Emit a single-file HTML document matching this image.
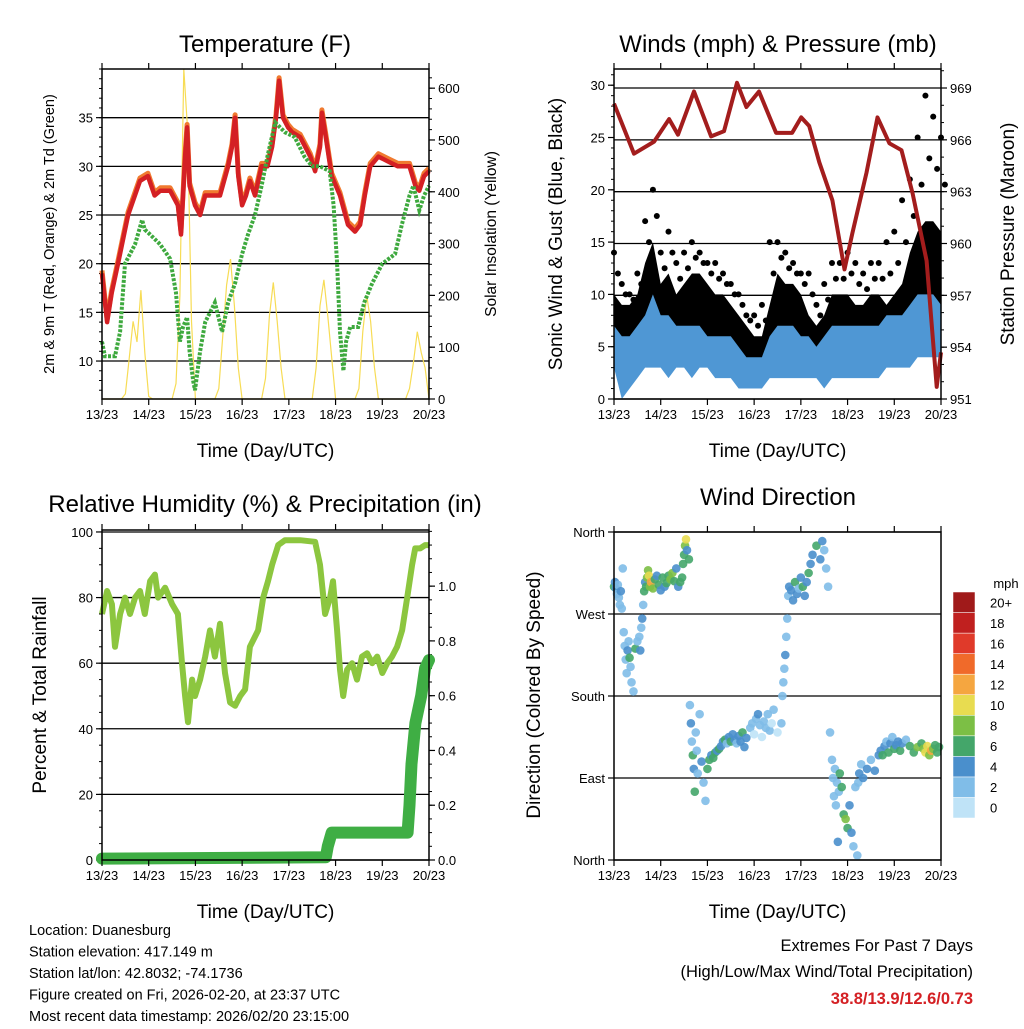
<!DOCTYPE html>
<html><head><meta charset="utf-8"><style>
html,body{margin:0;padding:0;background:#fff;}
svg text{font-family:"Liberation Sans",sans-serif;}
</style></head><body>
<svg id="c" width="1024" height="1024" xmlns="http://www.w3.org/2000/svg"></svg>
<script>
// ---- Temperature panel data ----
const tempHours=[0,2.6,5,8.2,13.4,19.5,23.6,27,30,35,39,40.6,42.7,43.7,45,47.8,50.4,53,55.5,60.6,64.8,66.8,68.4,70,72,74,76,78.6,82,85,87.4,89.4,91,93,95.6,97.7,101.8,107,109.5,112,113,115,118,122.3,126.4,130,132.6,135,137.8,142,147,152,158,161,163,165.5,168];
const tempVals=[19,14,17,20,25,28.5,29,27,27.5,27.5,26,23,31,34,28,26,25,27,27,27,30,32,35,29,26,27,28.5,27,30,30,32,35,38.8,35,34,33.5,33,31,29.5,32,35.5,33,29,27,24,23.3,24,27,30,31,30.5,30,30,28,27.5,29,29.5];
const dewHours=[0,1.5,6.7,9.3,11.8,17,20.6,22,24.7,29.8,35,38,40,41.6,43.7,45,46.8,47.8,50.4,53,58,61.7,64.8,68.4,72,75,78.6,82,85,89,94,99,104,108,112,117,119,120.8,122.3,124,125.4,127.5,131.6,134.7,138.8,144,150.6,154,158,160,163,165.5,168];
const dewVals=[12,10.5,10.5,13,20,22,24.5,23.5,23,22,20.5,17,12,13.5,14.5,11,8,7,11,14,16,13,16,18,21,23,25,28,31,34.5,33.5,33,31,30,30,29.5,26,20,13,9,12,13.5,13.5,16,18,20,21,24,27,28,25.5,27,28];
const solarVals=[0,0,0,0,0,0,10,80,150,110,210,90,5,0,0,0,0,0,0,30,200,640,520,150,0,0,0,0,0,0,20,120,220,270,180,60,0,0,0,0,0,0,40,160,225,150,60,0,0,0,0,0,0,0,0,60,180,230,160,80,0,0,0,0,0,0,20,130,200,150,60,0,0,0,0,0,0,0,0,20,70,130,90,60,0];
// ---- Winds panel data (4-hour bins) ----
const windLo=[3,0,1,2,3,3,3,2,3,3,2,3,3,2,2,2,1,1,1,1,2,2,2,2,2,2,2,1,2,2,2,2,2,2,2,3,3,3,3,4,4,4,4];
const windHi=[7,6,6,7,8,10,8,8,7,7,7,7,6,6,6,6,5,4,4,4,6,7,7,7,6,6,5,6,7,7,7,7,7,7,7,8,8,8,9,10,10,10,9];
const gustTyp=[10,9,9,10,13,15,11,12,10,11,12,12,11,10,10,9,8,7,6,6,9,12,11,11,10,8,7,8,10,10,10,9,9,10,10,9,10,11,14,16,17,17,16];
const gustMax=[14,11,10,12,17,20,14,16,13,14,15,14,13,13,12,11,10,8,8,9,15,15,14,13,12,12,9,11,13,13,14,13,12,13,13,15,16,19,21,25,29,27,25];
const presHours=[0,10.3,20.6,28.3,32.9,41.1,49.9,56.5,63.2,68,74.5,83.3,91.5,96.2,100.3,105.5,112.2,118.4,122.5,129.7,135.4,141.5,147.7,153.4,160.6,165.8,168];
const presVals=[968.1,965.2,965.9,967.2,966.3,968.8,966.2,966.5,969.3,967.9,968.8,966.4,966.4,967.3,966.8,964.7,962.5,958.5,960.6,964.1,967.3,965.8,965.4,962.9,959.0,951.7,953.7];
// ---- RH / precip ----
const rhHours=[0,2.6,5.1,6.7,9.3,11.8,14.4,17,19.5,22,24.7,27.2,28.8,32.4,36,39,41.1,42.7,44.2,46.3,47.8,50.4,53,55.5,58,60.6,63.2,65.8,68.4,71,73.5,76,80.2,82.8,85.3,87.4,90.5,94,101.8,109.5,112,114.6,117.2,118.7,120.8,122.3,123.9,125.9,128.5,131,133.6,136.2,138.8,141.4,144,146.5,149,151.6,154.2,156.8,159.3,160.9,163.5,166,168];
const rhVals=[75,82,78,65,75,80,75,80,82,75,85,87,80,83,78,75,60,50,42,55,50,55,62,70,62,72,57,48,47,50,52,65,70,80,85,90,96,97.5,97.5,97,90,75,80,85,70,58,50,58,60,55,62,63,60,62,57,60,62,65,70,80,90,95,95,96,96];
const precipHours=[0,115,116,118,157,158,159,161,164,166,168];
const precipVals=[0.005,0.01,0.05,0.1,0.1,0.2,0.35,0.5,0.6,0.7,0.73];
// ---- Wind direction scatter ----
const dirHours=[0,0.5,1,1.5,2,2.5,3,3.5,4,4.5, 5,5.5,6,6.5,7,7.5,8,8.5,9,10,11,12,13,13.5,14,14.5,15,
15.5,16,16.5,17,17.5,18,18.5,19,20,21,22,23,24,25,26,27,28,29,30,31,32,33,34,35,
35.5,36,36.5,37,37.5,38.5, 39,39.5,40,40.5,41,41.5,42,42.5,43,44,45,46,47,
48,49,50,51,52,53,54,55,56,57,58,59,60,61,62,63,64,65,66,67,68,70,
71,72,73,74,75,76,77,78,79,80,81,82,84,86,
86.5,87,87.5,88,88.5,89,89.5,
90,91,92,93,94,95,96,97,98,99,100,101,102,104,106,107,108,109,110,111,
112,112.5,113,113.5,114,114.5,115,115.5,116,117,118,119,120,121,122,123,124,125,125.5,
126,127,128,130,132,134,136,137,
138,139,140,141,142,143,144,145,146,147,148,150,152,154,156,158,159,160,161,162,163,164,165,166,167,168];
const dirVals=[300,305,298,292,302,288,280,295,276,320, 250,235,220,205,230,240,222,212,195,185,232,240,245,230,255,265,280,
295,305,300,310,318,312,300,305,298,308,312,302,296,310,300,304,312,308,315,306,320,300,305,310,
325,335,345,352,340,330, 170,150,130,115,100,75,140,120,95,160,108,85,65,
100,110,115,112,118,120,122,125,130,132,128,135,130,138,132,128,136,130,140,124,134,
145,150,138,155,160,148,135,152,145,160,142,150,165,140,
150,180,195,210,225,245,265,
290,300,296,285,305,292,298,310,300,290,305,315,325,335,345,330,350,340,320,300,
140,110,90,70,100,60,85,20,75,95,80,50,45,35,60,30,15,80,5,
85,95,105,90,100,110,98,115,
120,115,125,130,118,128,135,122,126,130,120,128,132,125,118,124,128,122,118,125,115,120,122,126,118,124];
const dirSpd=[6,4,4,3,3,3,3,4,3,2, 3,2,3,2,4,3,6,3,3,3,6,3,3,4,3,4,3,
6,4,7,8,9,10,8,12,8,6,5,6,4,6,5,7,6,8,9,6,5,4,6,6,
6,6,8,10,5,6, 3,4,3,6,4,6,3,3,3,3,4,3,2,
6,6,4,6,6,4,6,4,4,6,3,4,6,4,4,3,4,4,6,4,4,
2,2,1,2,4,2,1,2,2,3,2,1,2,1,
2,3,3,3,4,3,3,
3,4,4,4,6,4,3,5,6,4,4,6,4,5,6,4,4,3,2,2,
3,2,3,2,2,3,3,4,2,6,6,6,8,6,4,4,3,3,3,
3,4,3,4,4,3,4,4,
4,6,4,3,6,4,3,6,4,5,6,4,3,6,7,8,6,9,10,11,8,12,9,6,7,6];

const NS='http://www.w3.org/2000/svg';
const svg=document.getElementById('c');
function el(tag,attrs,parent,text){const e=document.createElementNS(NS,tag);for(const k in attrs)e.setAttribute(k,attrs[k]);if(text!==undefined)e.textContent=text;(parent||svg).appendChild(e);return e;}
function txt(x,y,s,size,anchor,parent,rot){const a={x:x,y:y,'font-size':size,'text-anchor':anchor||'middle',fill:'#000'};if(rot)a.transform='rotate(-90 '+x+' '+y+')';return el('text',a,parent,s);}

const dayLabels=['13/23','14/23','15/23','16/23','17/23','18/23','19/23','20/23'];
function panel(name){
  const g=el('g',{},svg);
  
  
  return g;
}
function frame(g,x0,y0,x1,y1){
  el('rect',{x:x0,y:y0,width:x1-x0,height:y1-y0,fill:'none',stroke:'#000','stroke-width':1.5},g);
  const xa=el('g',{},g);
  
  
  for(let d=0;d<=7;d++){
    const x=x0+(x1-x0)*d/7;
    el('line',{x1:x,y1:y1,x2:x,y2:y1+6,stroke:'#000','stroke-width':1.2},xa);
    el('line',{x1:x,y1:y0,x2:x,y2:y0-6,stroke:'#000','stroke-width':1.2},xa);
    const t=txt(x,y1+20,dayLabels[d],13,'middle',xa);
    
    
  }
  const xt=txt((x0+x1)/2,y1+58,'Time (Day/UTC)',19,'middle',g);
  
  
}
function yTicks(g,x,y0,y1,vmin,vmax,ticks,labels,side,grid,xOther,minorStep){
  const sc=v=>y1-(v-vmin)/(vmax-vmin)*(y1-y0);
  ticks.forEach((v,i)=>{
    const y=sc(v);
    if(grid) el('line',{x1:Math.min(x,xOther),y1:y,x2:Math.max(x,xOther),y2:y,stroke:'#000','stroke-width':1.3},g);
    el('line',{x1:x,y1:y,x2:x+(side=='l'?-6:6),y2:y,stroke:'#000','stroke-width':1.2},g);
    const t=txt(x+(side=='l'?-9:9),y+5,labels[i],13,side=='l'?'end':'start',g);
    
    
  });
  if(minorStep){for(let v=Math.ceil(vmin/minorStep)*minorStep;v<=vmax+1e-9;v+=minorStep){const y=sc(v);el('line',{x1:x,y1:y,x2:x+(side=='l'?-3:3),y2:y,stroke:'#000','stroke-width':1},g);}}
  return sc;
}
function path(pts){return pts.map((p,i)=>(i?'L':'M')+p[0].toFixed(1)+' '+p[1].toFixed(1)).join(' ');}

// ===== Panel 1: Temperature =====
(function(){
  const X0=102,X1=429,Y0=69,Y1=399;
  const g=panel('temperature-panel');
  const xs=h=>X0+h/168*(X1-X0);
  const yT=v=>Y1-(v-6.1)/(40-6.1)*(Y1-Y0);
  const yS=v=>Math.max(Y0,Y1-v/637*(Y1-Y0));
  const ti=txt(265,52,'Temperature (F)',24,'middle',g);
  yTicks(g,X0,Y0,Y1,6.1,40,[10,15,20,25,30,35],['10','15','20','25','30','35'],'l',true,X1,1);
  yTicks(g,X1,Y0,Y1,0,637,[0,100,200,300,400,500,600],['0','100','200','300','400','500','600'],'r',false,X0,20);
  const sp=el('path',{d:path(solarVals.map((v,i)=>[xs(i*2),yS(v)])),fill:'none',stroke:'#f7dc55','stroke-width':1.2},g);
  
  const o=el('path',{d:path(tempHours.map((h,i)=>[xs(h),yT(tempVals[i]+0.3)])),fill:'none',stroke:'#f07a30','stroke-width':5,'stroke-linejoin':'round'},g);
  
  const r=el('path',{d:path(tempHours.map((h,i)=>[xs(h),yT(tempVals[i])])),fill:'none',stroke:'#d42024','stroke-width':4.5,'stroke-linejoin':'round'},g);
  
  const d=el('path',{d:path(dewHours.map((h,i)=>[xs(h),yT(dewVals[i])])),fill:'none',stroke:'#3ea93e','stroke-width':4,'stroke-dasharray':'3 1.5'},g);
  
  frame(g,X0,Y0,X1,Y1);
  const a=txt(54,234,'2m & 9m T (Red, Orange) & 2m Td (Green)',14.5,'middle',g,true);
  const b=txt(496,234,'Solar Insolation (Yellow)',15.5,'middle',g,true);
})();

// ===== Panel 2: Winds & Pressure =====
(function(){
  const X0=614,X1=941,Y0=69,Y1=399;
  const g=panel('winds-panel');
  const xs=h=>X0+h/168*(X1-X0);
  const yW=v=>Y1-v/31.55*(Y1-Y0);
  const yP=v=>Y1-(v-951)/(970.1-951)*(Y1-Y0);
  const ti=txt(778,52,'Winds (mph) & Pressure (mb)',24,'middle',g);
  yTicks(g,X1,Y0,Y1,951,970.1,[951,954,957,960,963,966,969],['951','954','957','960','963','966','969'],'r',true,X0,1);
  yTicks(g,X0,Y0,Y1,0,31.55,[0,5,10,15,20,25,30],['0','5','10','15','20','25','30'],'l',false,X1,1);
  const gb=el('path',{d:path(gustTyp.map((v,i)=>[xs(i*4),yW(v)]).concat(windLo.map((v,i)=>[xs(i*4),yW(v+2)]).reverse()))+'Z',fill:'#000'},g);
  
  gustMax.forEach((v,i)=>{
    const c=el('circle',{cx:xs(i*4),cy:yW(v),r:3,fill:'#000'},g);
    
    
    const c2=el('circle',{cx:xs(i*4+2),cy:yW((v+gustTyp[i])/2),r:3,fill:'#000'},g);
    
    
  });
  const wb=el('path',{d:path(windHi.map((v,i)=>[xs(i*4),yW(v)]).concat(windLo.map((v,i)=>[xs(i*4),yW(v)]).reverse()))+'Z',fill:'#4f97d4'},g);
  
  const p=el('path',{d:path(presHours.map((h,i)=>[xs(h),yP(presVals[i])])),fill:'none',stroke:'#a31d1d','stroke-width':4,'stroke-linejoin':'round'},g);
  
  frame(g,X0,Y0,X1,Y1);
  const a=txt(562,234,'Sonic Wind & Gust (Blue, Black)',19,'middle',g,true);
  const b=txt(1014,234,'Station Pressure (Maroon)',19,'middle',g,true);
})();

// ===== Panel 3: RH & Precip =====
(function(){
  const X0=102,X1=429,Y0=530,Y1=860;
  const g=panel('humidity-precip-panel');
  const xs=h=>X0+h/168*(X1-X0);
  const yR=v=>Y1-v/100.6*(Y1-Y0);
  const yP=v=>Y1-v/1.205*(Y1-Y0);
  const ti=txt(265,512,'Relative Humidity (%) & Precipitation (in)',24,'middle',g);
  yTicks(g,X0,Y0,Y1,0,100.6,[0,20,40,60,80,100],['0','20','40','60','80','100'],'l',true,X1,5);
  yTicks(g,X1,Y0,Y1,0,1.205,[0,0.2,0.4,0.6,0.8,1.0],['0.0','0.2','0.4','0.6','0.8','1.0'],'r',false,X0,0.05);
  const r=el('path',{d:path(rhHours.map((h,i)=>[xs(h),yR(rhVals[i])])),fill:'none',stroke:'#8cc63f','stroke-width':6,'stroke-linejoin':'round'},g);
  
  const pr=el('path',{d:path(precipHours.map((h,i)=>[xs(h),yP(precipVals[i])])),fill:'none',stroke:'#3fae44','stroke-width':12,'stroke-linejoin':'round','stroke-linecap':'round'},g);
  
  frame(g,X0,Y0,X1,Y1);
  const a=txt(46,695,'Percent & Total Rainfall',19,'middle',g,true);
})();

// ===== Panel 4: Wind Direction =====
const spdColors=['#bfe3f7','#80bde8','#4a8fcc','#44a66a','#7cbf45','#e8dc50','#f5a640','#f06a2a','#e03a2a','#c0201f','#a01a1a'];
const spdLabels=['0','2','4','6','8','10','12','14','16','18','20+'];
(function(){
  const X0=614,X1=941,Y0=532,Y1=860;
  const g=panel('wind-direction-panel');
  const xs=h=>X0+h/168*(X1-X0);
  const ti=txt(778,505,'Wind Direction',24,'middle',g);
  const yD=yTicks(g,X0,Y0,Y1,0,360,[0,90,180,270,360],['North','East','South','West','North'],'l',true,X1,0);
  const n=Math.min(dirHours.length,dirVals.length,dirSpd.length);
  for(let i=0;i<n;i++){
    const ci=Math.max(0,Math.min(10,Math.floor(dirSpd[i]/2)));
    const c=el('circle',{cx:xs(dirHours[i]),cy:yD(dirVals[i]),r:4.3,fill:spdColors[ci],'fill-opacity':0.9},g);
    
    
  }
  frame(g,X0,Y0,X1,Y1);
  const a=txt(540,695,'Direction (Colored By Speed)',19,'middle',g,true);
  const lg=el('g',{},g);
  
  
  const bh=226/11;
  for(let i=0;i<11;i++){
    const y=818-(i+1)*bh;
    el('rect',{x:953,y:y,width:22,height:bh,fill:spdColors[i],stroke:'#fff','stroke-width':0.5},lg);
    txt(990,y+bh/2+5,spdLabels[i],13,'start',lg);
  }
  txt(1006,588,'mph',13,'middle',lg);
})();

// ===== Footer text =====
const info=['Location: Duanesburg','Station elevation: 417.149 m','Station lat/lon: 42.8032; -74.1736','Figure created on Fri, 2026-02-20, at 23:37 UTC','Most recent data timestamp: 2026/02/20 23:15:00'];
const ig=el('g',{},svg);


info.forEach((s,i)=>txt(29,935+i*21.5,s,14.5,'start',ig));
const eg=el('g',{},svg);


txt(973,951,'Extremes For Past 7 Days',16.5,'end',eg);
txt(973,977,'(High/Low/Max Wind/Total Precipitation)',16.5,'end',eg);
const ex=txt(973,1004,'38.8/13.9/12.6/0.73',16.5,'end',eg);
ex.setAttribute('fill','#d42024');ex.setAttribute('font-weight','bold');
</script>
</body></html>
